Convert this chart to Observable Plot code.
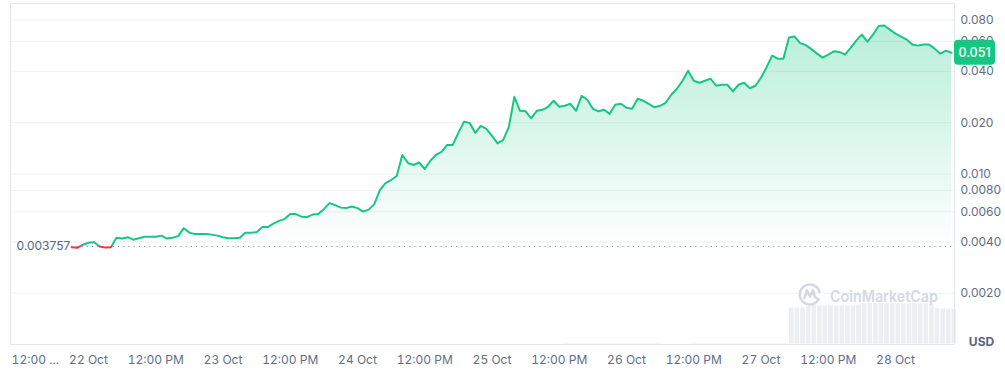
<!DOCTYPE html>
<html><head><meta charset="utf-8">
<script src="https://cdn.jsdelivr.net/npm/d3@7"></script>
<script src="https://cdn.jsdelivr.net/npm/@observablehq/plot@0.6"></script>
<style>
html,body{margin:0;padding:0;background:#fff;}
#wrap{position:relative;width:1005px;height:372px;overflow:hidden;font-family:Inter,"Noto Sans",sans-serif;}
#wrap > svg{position:absolute;left:0;top:0;}
#wm{position:absolute;left:0;top:0;pointer-events:none;}
</style></head><body><div id="wrap"></div>
<script>
// ---- data ----
const startTime = "2024-10-21T21:00:00Z"; // first hourly sample
const prices = [
0.00372,0.00369,0.00385,0.00395,0.00398,0.00376,0.00370,0.00372,0.00423,0.00418,
0.00426,0.00412,0.00420,0.00429,0.00429,0.00429,0.00435,0.00418,0.00423,0.00432,
0.00481,0.00453,0.00444,0.00444,0.00444,0.00441,0.00435,0.00426,0.00420,0.00420,
0.00423,0.00453,0.00453,0.00456,0.00488,0.00488,0.00511,0.00531,0.00544,0.00582,
0.00582,0.00562,0.00559,0.00578,0.00582,0.00622,0.00675,0.00657,0.00635,0.00631,
0.00644,0.00631,0.00602,0.00618,0.00666,0.00805,0.00885,0.00922,0.00973,0.01293,
0.01161,0.01129,0.01168,0.01070,0.01197,0.01293,0.01347,0.01481,0.01481,0.01743,
0.02023,0.01995,0.01743,0.01916,0.01840,0.01673,0.01511,0.01585,0.01883,0.02838,
0.02348,0.02332,0.02121,0.02348,0.02380,0.02479,0.02688,0.02479,0.02512,0.02581,
0.02348,0.02876,0.02725,0.02413,0.02332,0.02380,0.02254,0.02546,0.02581,0.02445,
0.02413,0.02762,0.02688,0.02581,0.02462,0.02512,0.02616,0.02915,0.03162,0.03525,
0.04036,0.03525,0.03430,0.03525,0.03622,0.03293,0.03338,0.03338,0.03049,0.03338,
0.03430,0.03184,0.03293,0.03671,0.04232,0.04944,0.04748,0.04748,0.06310,0.06396,
0.05857,0.05701,0.05400,0.05080,0.04813,0.05012,0.05241,0.05198,0.05012,0.05488,
0.06059,0.06571,0.05977,0.06571,0.07374,0.07425,0.07033,0.06661,0.06396,0.06141,
0.05740,0.05662,0.05740,0.05740,0.05437,0.05080,0.05291,0.05140
];
const volumes = [
0,0,0,0,0,0,0,0,0,0, 0,0,0,0,0,0,0,0,0,0, 0,0,0,0,0,0,0,0,0,0,
0,0,0,0,0,0,0,0,0,0, 0,0,0,0,0,0,0,0,0,0, 0,0,0,0,0,0,0,0,0,0,
0,0,0,0,0,0,0,0,0,0, 0,0,0,0,0,0,0,0,0,0, 0,0,0,0,0,0,0,0,
1.5,1.5,1.5,1.5,1.5,1.5,1.5,1.5,1.5,1.5,1.5,1.5,1.5,1.5,1.5,1.5,1.5,
0,0,0,0,0,0,
1.5,1.5,1.5,1.5,1.5,1.5,1.5,1.5,1.5,1.5,1.5,1.5,1.5,1.5,1.5,1.5,1.5,
37,37,37,38.5,39,39,39,39,39,39,39,39,40,41.3,41.3,41.3,41.3,41.3,41.3,41.3,
41.3,41.3,41.3,41.3,41,40,36.5,36,35.5,35.5
];
const baselinePrice = 0.003757;
const xDomain = ["2024-10-21T10:05:00Z", "2024-10-28T10:32:00Z"];
const yDomain = [0.001, 0.1];
const volumeDomain = [0, 341];
const yTicks = [0.08, 0.06, 0.04, 0.02, 0.01, 0.008, 0.006, 0.004, 0.002];
const yTickLabels = ["0.080","0.060","0.040","0.020","0.010","0.0080","0.0060","0.0040","0.0020"];
const xTicks = ["2024-10-21T12:00:00Z","2024-10-22T00:00:00Z","2024-10-22T12:00:00Z","2024-10-23T00:00:00Z",
  "2024-10-23T12:00:00Z","2024-10-24T00:00:00Z","2024-10-24T12:00:00Z","2024-10-25T00:00:00Z",
  "2024-10-25T12:00:00Z","2024-10-26T00:00:00Z","2024-10-26T12:00:00Z","2024-10-27T00:00:00Z",
  "2024-10-27T12:00:00Z","2024-10-28T00:00:00Z"];
const xTickLabels = ["12:00 ...","22 Oct","12:00 PM","23 Oct","12:00 PM","24 Oct","12:00 PM","25 Oct",
  "12:00 PM","26 Oct","12:00 PM","27 Oct","12:00 PM","28 Oct"];
const currency = "USD";
const brand = "CoinMarketCap";

// ---- build ----
const W = 1005, H = 372, mT = 3, mB = 28, mL = 10, mR = 51;
const green = "#16c784", red = "#ea3943", txt = "#616e85";
const t0 = Date.parse(startTime);
const data = prices.map((p, i) => ({time: new Date(t0 + i * 3600e3), price: p, volume: volumes[i]}));
const xd = xDomain.map(d => new Date(d));
const xt = xTicks.map(d => new Date(d));
const xLab = new Map(xt.map((d, i) => [+d, xTickLabels[i]]));
const yTickData = yTicks.map((v, i) => ({v, label: yTickLabels[i]}));

function gradDefs(index, scales, values, dims) {
  const yb = scales.y(baselinePrice);
  const h = dims.height;
  const defs = d3.create("svg:defs");
  const lg = defs.append("linearGradient").attr("id", "lineGrad").attr("gradientUnits", "userSpaceOnUse")
    .attr("x1", 0).attr("x2", 0).attr("y1", 0).attr("y2", h);
  lg.append("stop").attr("offset", yb / h).attr("stop-color", green);
  lg.append("stop").attr("offset", yb / h).attr("stop-color", red);
  const ag = defs.append("linearGradient").attr("id", "areaGrad").attr("gradientUnits", "userSpaceOnUse")
    .attr("x1", 0).attr("x2", 0).attr("y1", 0).attr("y2", h);
  ag.append("stop").attr("offset", 0).attr("stop-color", green).attr("stop-opacity", 0.34);
  ag.append("stop").attr("offset", yb / h).attr("stop-color", green).attr("stop-opacity", 0.0);
  ag.append("stop").attr("offset", yb / h).attr("stop-color", red).attr("stop-opacity", 0.06);
  ag.append("stop").attr("offset", 1).attr("stop-color", red).attr("stop-opacity", 0.12);
  return defs.node();
}

function badge(index, scales, values, dims) {
  const last = data[data.length - 1];
  const y = scales.y(last.price);
  const x0 = dims.width - dims.marginRight;
  const g = d3.create("svg:g");
  g.append("rect").attr("x", x0).attr("y", y - 12.5).attr("width", 41).attr("height", 25)
    .attr("rx", 4).attr("fill", green);
  g.append("text").attr("x", x0 + 20.5).attr("y", y).attr("dy", "0.36em").attr("text-anchor", "middle")
    .attr("fill", "#fff").attr("font-size", 12.5).attr("font-weight", 500)
    .attr("font-family", "Inter, sans-serif").text(d3.format(".3f")(last.price));
  return g.node();
}

const volPlot = Plot.plot({
  width: W, height: H, marginTop: mT, marginBottom: mB, marginLeft: mL, marginRight: mR,
  style: {background: "transparent"},
  x: {type: "utc", domain: xd, axis: null},
  y: {domain: volumeDomain, axis: null},
  marks: [
    Plot.rectY(data, {x: "time", y: "volume", interval: d3.utcHour, fill: "#eceef2", inset: 0.5})
  ]
});

const mainPlot = Plot.plot({
  width: W, height: H, marginTop: mT, marginBottom: mB, marginLeft: mL, marginRight: mR,
  style: {background: "transparent", fontFamily: "Inter, sans-serif", fontSize: "12px"},
  x: {type: "utc", domain: xd},
  y: {type: "log", domain: yDomain, axis: null},
  marks: [
    gradDefs,
    Plot.ruleY(yTicks, {stroke: "#eff1f4", strokeWidth: 1}),
    Plot.frame({stroke: "#e3e6eb"}),
    Plot.areaY(data, {x: "time", y1: baselinePrice, y2: "price", fill: "url(#areaGrad)"}),
    Plot.ruleY([baselinePrice], {x1: data[0].time, x2: xd[1], stroke: "#8f99a8", strokeWidth: 1.2, strokeDasharray: "1.2,4"}),
    Plot.line(data, {x: "time", y: "price", stroke: "url(#lineGrad)", strokeWidth: 2, strokeLinejoin: "round"}),
    Plot.text([baselinePrice], {y: d => d, text: d => String(d), frameAnchor: "left", dx: 6, textAnchor: "start", fill: "#58667e", fontSize: 12}),
    Plot.text(yTickData, {y: "v", text: "label", frameAnchor: "right", dx: 6, textAnchor: "start", fill: txt, fontSize: 12}),
    Plot.axisX(xt.slice(1), {tickSize: 0, tickPadding: 11, tickFormat: d => xLab.get(+d), color: txt, fontSize: 12, label: null}),
    Plot.axisX(xt.slice(0, 1), {tickSize: 0, tickPadding: 11, tickFormat: d => xLab.get(+d), color: txt, fontSize: 12, dx: 14, label: null}),
    Plot.text([currency], {text: d => d, frameAnchor: "bottom-right", dx: 27, dy: -2, textAnchor: "middle", lineAnchor: "middle", fill: "#58667e", fontSize: 12, fontWeight: 700}),
    badge
  ]
});

const wrap = document.getElementById("wrap");
wrap.appendChild(volPlot);
wrap.appendChild(mainPlot);

// watermark (decoration)
const wm = d3.select(wrap).append("svg").attr("id", "wm").attr("width", W).attr("height", H);
const lg = wm.append("g").attr("transform", "translate(810,294)").attr("fill", "none")
  .attr("stroke", "#d3d9e3").attr("stroke-width", 2.6).attr("stroke-linecap", "round").attr("stroke-linejoin", "round");
lg.append("path").attr("d", "M 8.5 5.5 A 10 10 0 1 1 9.5 -2");
lg.append("path").attr("d", "M -5.5 4 L -3 -3.5 L 0 2.5 L 3 -3.5 L 5 3 L 8.5 5.5");
wm.append("text").attr("x", 830).attr("y", 301.5).attr("fill", "#d3d9e3")
  .attr("font-family", "Inter, sans-serif").attr("font-size", 16).attr("font-weight", 600)
  .attr("textLength", 108).attr("lengthAdjust", "spacingAndGlyphs").text(brand);
</script>
</body></html>
